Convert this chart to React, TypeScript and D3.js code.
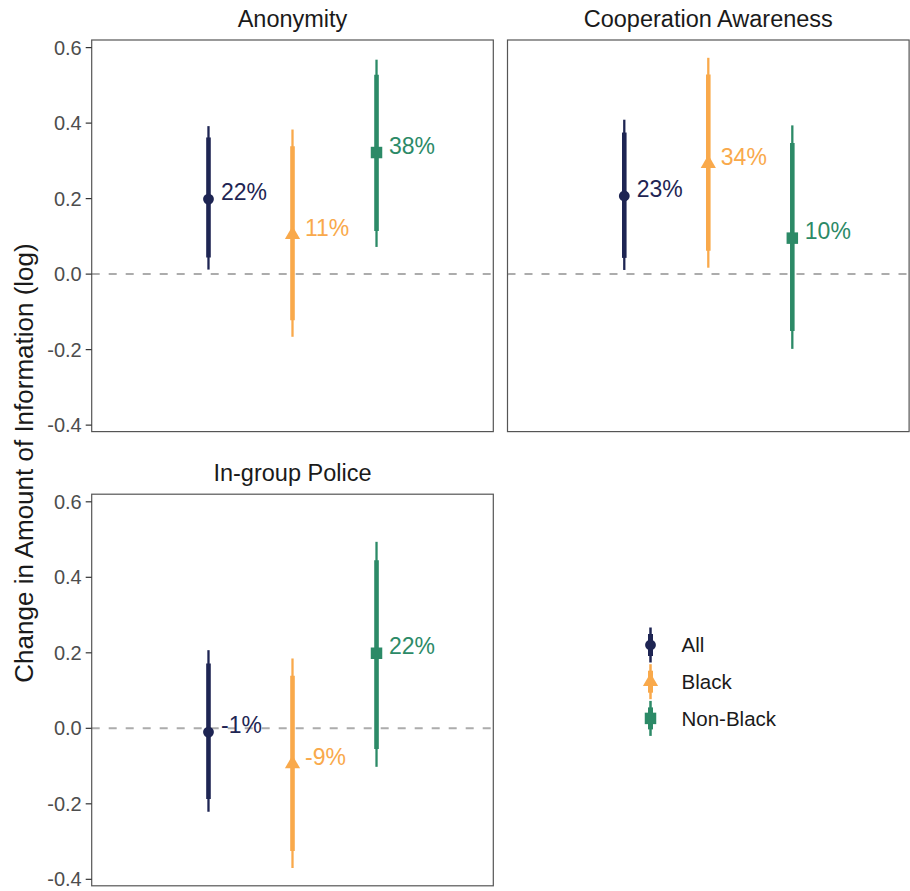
import React from "react";
import * as d3 from "d3";

// Facets, groups and estimates (percent change; plotted on the log scale)
const facets = ["Anonymity", "Cooperation Awareness", "In-group Police"];
const groups = ["All", "Black", "Non-Black"];
const groupColors = ["#1e2553", "#f9a94b", "#2c8a67"];
const groupShapes = [d3.symbolCircle, d3.symbolTriangle, d3.symbolSquare];
const symbolSizes = [92, 100, 132];

const pctAnonymity = [22, 11, 38];
const pctCooperation = [23, 34, 10];
const pctInGroup = [-1, -9, 22];

// 95% intervals (thin) and 90% intervals (thick), log scale
const lo95Anonymity = [0.012, -0.166, 0.072];
const hi95Anonymity = [0.392, 0.383, 0.568];
const lo90Anonymity = [0.044, -0.122, 0.114];
const hi90Anonymity = [0.362, 0.339, 0.528];

const lo95Cooperation = [0.011, 0.017, -0.198];
const hi95Cooperation = [0.409, 0.573, 0.394];
const lo90Cooperation = [0.043, 0.062, -0.151];
const hi90Cooperation = [0.375, 0.529, 0.347];

const lo95InGroup = [-0.221, -0.37, -0.102];
const hi95InGroup = [0.207, 0.185, 0.494];
const lo90InGroup = [-0.187, -0.325, -0.055];
const hi90InGroup = [0.172, 0.139, 0.445];

const yTicks = [-0.4, -0.2, 0.0, 0.2, 0.4, 0.6];

const FONT = "'Liberation Sans', Arial, Helvetica, sans-serif";

type Row = { group: string; pct: number; est: number; lo95: number; hi95: number; lo90: number; hi90: number };

function buildRows(pct: number[], lo95: number[], hi95: number[], lo90: number[], hi90: number[]): Row[] {
  return groups.map((g, i) => ({
    group: g,
    pct: pct[i],
    est: Math.log1p(pct[i] / 100),
    lo95: lo95[i],
    hi95: hi95[i],
    lo90: lo90[i],
    hi90: hi90[i],
  }));
}

const facetRows: Row[][] = [
  buildRows(pctAnonymity, lo95Anonymity, hi95Anonymity, lo90Anonymity, hi90Anonymity),
  buildRows(pctCooperation, lo95Cooperation, hi95Cooperation, lo90Cooperation, hi90Cooperation),
  buildRows(pctInGroup, lo95InGroup, hi95InGroup, lo90InGroup, hi90InGroup),
];

const W = 910;
const H = 891;
const panelW = 401.6;
const panelH = 391.6;
const panelPos = [
  { x: 91.7, y: 40 },
  { x: 507.5, y: 40 },
  { x: 91.7, y: 494.2 },
];

// Shared y domain with 5% expansion, as in the facetted plot
const allVals = facetRows.flat().flatMap((r) => [r.lo95, r.hi95, r.est]);
const [vMin, vMax] = d3.extent(allVals) as [number, number];
const pad = (vMax - vMin) * 0.05;
const yDomain: [number, number] = [vMin - pad, vMax + pad];

function Panel({ idx }: { idx: number }) {
  const { x: px, y: py } = panelPos[idx];
  const rows = facetRows[idx];
  const y = d3.scaleLinear().domain(yDomain).range([panelH, 0]);
  const x = d3.scalePoint<string>().domain(groups).range([0, panelW]).padding(1.39);
  const showAxis = idx !== 1;
  return (
    <g transform={`translate(${px},${py})`}>
      <text
        x={panelW / 2}
        y={-13.3}
        textAnchor="middle"
        fontFamily={FONT}
        fontSize={23.5}
        fill="#1a1a1a"
      >
        {facets[idx]}
      </text>
      <line
        x1={0}
        x2={panelW}
        y1={y(0)}
        y2={y(0)}
        stroke="#acacac"
        strokeWidth={2}
        strokeDasharray="8 9"
      />
      {rows.map((r, i) => {
        const cx = x(r.group)!;
        const sym = d3.symbol().type(groupShapes[i]).size(symbolSizes[i])();
        return (
          <g key={r.group}>
            <line x1={cx} x2={cx} y1={y(r.lo95)} y2={y(r.hi95)} stroke={groupColors[i]} strokeWidth={2.3} />
            <line x1={cx} x2={cx} y1={y(r.lo90)} y2={y(r.hi90)} stroke={groupColors[i]} strokeWidth={4.6} />
            <path d={sym!} transform={`translate(${cx},${y(r.est)})`} fill={groupColors[i]} />
            <text
              x={cx + 12.5}
              y={y(r.est) + 1}
              fontFamily={FONT}
              fontSize={23}
              fill={groupColors[i]}
            >
              {`${r.pct}%`}
            </text>
          </g>
        );
      })}
      <rect x={0} y={0} width={panelW} height={panelH} fill="none" stroke="#555555" strokeWidth={1.2} />
      {showAxis &&
        yTicks.map((t) => (
          <g key={t} transform={`translate(0,${y(t)})`}>
            <line x1={-6} x2={0} stroke="#333333" strokeWidth={1.2} />
            <text
              x={-10}
              y={7}
              textAnchor="end"
              fontFamily={FONT}
              fontSize={20}
              fill="#4d4d4d"
            >
              {t.toFixed(1)}
            </text>
          </g>
        ))}
    </g>
  );
}

function Legend() {
  const lx = 650.5;
  const ly = d3.scalePoint<string>().domain(groups).range([645, 718.4]);
  return (
    <g>
      {groups.map((g, i) => {
        const cy = ly(g)!;
        const sym = d3.symbol().type(groupShapes[i]).size(symbolSizes[i])();
        return (
          <g key={g}>
            <line x1={lx} x2={lx} y1={cy - 17.5} y2={cy + 17.5} stroke={groupColors[i]} strokeWidth={2.5} />
            <line x1={lx} x2={lx} y1={cy - 11} y2={cy + 11} stroke={groupColors[i]} strokeWidth={5} />
            <path d={sym!} transform={`translate(${lx},${cy})`} fill={groupColors[i]} />
            <text x={681.5} y={cy + 7.2} fontFamily={FONT} fontSize={20.5} fill="#1a1a1a">
              {g}
            </text>
          </g>
        );
      })}
    </g>
  );
}

export default function App() {
  return (
    <svg
      width={W}
      height={H}
      viewBox={`0 0 ${W} ${H}`}
      style={{ position: "absolute", left: 0, top: 0, display: "block", background: "#ffffff" }}
    >
      <rect width={W} height={H} fill="#ffffff" />
      {facets.map((_, i) => (
        <Panel key={i} idx={i} />
      ))}
      <text
        transform={`translate(33,463) rotate(-90)`}
        textAnchor="middle"
        fontFamily={FONT}
        fontSize={26}
        fill="#1a1a1a"
      >
        Change in Amount of Information (log)
      </text>
      <Legend />
    </svg>
  );
}
